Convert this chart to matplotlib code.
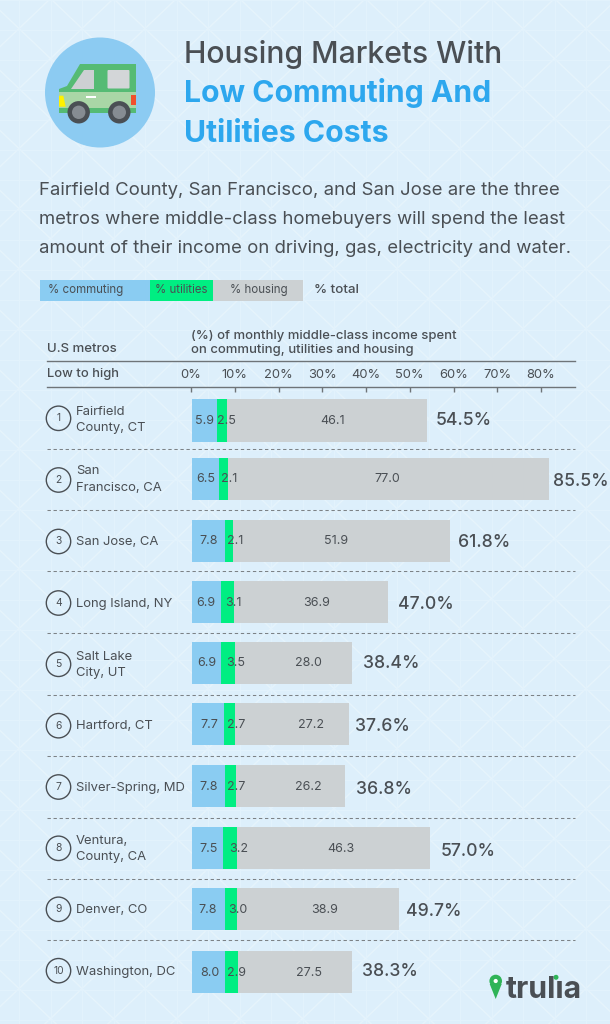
import matplotlib
matplotlib.use("Agg")
import matplotlib.pyplot as plt
from matplotlib.patches import Circle, Polygon, Rectangle, FancyBboxPatch

metros = ["Fairfield\nCounty, CT", "San\nFrancisco, CA", "San Jose, CA", "Long Island, NY", "Salt Lake\nCity, UT",
          "Hartford, CT", "Silver-Spring, MD", "Ventura,\nCounty, CA", "Denver, CO", "Washington, DC"]
commuting = [5.9, 6.5, 7.8, 6.9, 6.9, 7.7, 7.8, 7.5, 7.8, 8.0]
utilities = [2.5, 2.1, 2.1, 3.1, 3.5, 2.7, 2.7, 3.2, 3.0, 2.9]
housing = [46.1, 77.0, 51.9, 36.9, 28.0, 27.2, 26.2, 46.3, 38.9, 27.5]
totals = [54.5, 85.5, 61.8, 47.0, 38.4, 37.6, 36.8, 57.0, 49.7, 38.3]
# length of the first grey bar as drawn in the source (longer than its 46.1 label)
housing_drawn = [48.0, 77.0, 51.9, 36.9, 28.0, 27.2, 26.2, 46.3, 38.9, 27.5]
tick_values = [0, 10, 20, 30, 40, 50, 60, 70, 80]

W, H = 610, 1024
BG, BLUE, GREEN, GREY = "#DDEFFB", "#8ACCF2", "#00EE82", "#CCD1D3"
INK, TITLE_BLUE = "#4A4F54", "#2DA7EE"
FONT = "Inter"

bar_center = [420.3, 478.9, 541.2, 601.9, 662.8, 724.2, 785.8, 847.8, 908.8, 971.8]
separators = [448.7, 510.3, 571.3, 633, 694.7, 756, 817.7, 879, 940.3]
circle_y = [418.3, 480, 541.5, 603, 664.3, 725.7, 787, 848.3, 909.3, 970.7]
label_y = [420, 479.8, 542, 603.5, 665, 726, 787.5, 849, 910, 971.5]
blue_x = [204, 206, 209, 206.3, 207, 209.3, 209, 209, 208, 209.7]
green_x = [226.7, 229, 235.3, 233.3, 235.3, 236, 236, 238.7, 237.7, 236.7]
grey_x = [333, 387, 336, 316.7, 308, 310.7, 308, 341, 324.7, 309]
label_value_y = [421, 479.5, 541, 602.5, 663.5, 724.5, 787, 849.5, 910, 973]
total_x = [435.3, 553.3, 458.3, 398.3, 362.7, 355.3, 355.7, 440.3, 406, 361.7]
total_y = [420.7, 481, 542.7, 604.3, 663, 726.7, 790, 852, 911, 971.7]

fig = plt.figure(figsize=(W / 100, H / 100), dpi=100, facecolor=BG)
px = fig.add_axes([0, 0, 1, 1], zorder=3)
px.set_xlim(0, W); px.set_ylim(H, 0); px.axis("off"); px.patch.set_alpha(0)

# background lattice
bg = fig.add_axes([0, 0, 1, 1], zorder=0)
bg.set_xlim(0, W); bg.set_ylim(H, 0); bg.axis("off")
bg.set_facecolor(BG)
PX, PY = 63, 60
for i in range(-18, 30):
    x0 = 493 + (i - 8) * PX
    bg.plot([x0, x0 + H * 63 / 60], [0, H], color="#E6F4FC", lw=1.0)
    x1 = 553 + (i - 8) * PX
    bg.plot([x1, x1 - H * 63 / 60], [0, H], color="#E6F4FC", lw=1.0)
for i in range(0, 21):
    bg.plot([19 + i * PX / 2] * 2, [0, H], color="#E2F2FC", lw=0.8)
for j in range(0, 35):
    bg.plot([0, W], [j * PY / 2] * 2, color="#E2F2FC", lw=0.8)

# bars: 4.175 px per percent
left, right = 192, 575
top, bottom = 390, 1000
ax = fig.add_axes([left / W, 1 - bottom / H, (right - left) / W, (bottom - top) / H], zorder=1)
ax.set_xlim(0, (right - left) / 4.175)
ax.set_ylim(bottom, top)
ax.axis("off"); ax.patch.set_alpha(0)
acc = [a + b for a, b in zip(commuting, utilities)]
ax.barh(bar_center, commuting, height=42.4, color=BLUE)
ax.barh(bar_center, utilities, left=commuting, height=42.4, color=GREEN)
ax.barh(bar_center, housing_drawn, left=acc, height=42.4, color=GREY)

# percentage axis along the header rule: 43.75 px per ten percent
tick_ax = fig.add_axes([191 / W, 1 - 392 / H, (575 - 191) / W, 5 / H], zorder=1)
tick_ax.set_xlim(0, (575 - 191) / 4.375)
tick_ax.set_ylim(0, 1)
tick_ax.patch.set_alpha(0)
for s in tick_ax.spines.values():
    s.set_visible(False)
tick_ax.set_yticks([])
tick_ax.xaxis.tick_top()
tick_ax.set_xticks(tick_values)
tick_ax.set_xticklabels([f"{v}%" for v in tick_values], fontsize=9.3, color=INK, family=FONT)
tick_ax.tick_params(axis="x", direction="in", length=3.6, width=1, color="#6E7478", pad=4.2)

for sep in separators:
    px.plot([47, 575], [sep, sep], color="#7C8286", lw=0.75, dashes=(3.2, 2.6))
px.plot([47, 575], [361.3, 361.3], color="#6E7478", lw=1.0)
px.plot([47, 575], [387.3, 387.3], color="#6E7478", lw=1.0)

for i, m in enumerate(metros):
    px.add_patch(Circle((58.5, circle_y[i]), 12.2, fill=False, ec=INK, lw=1))
    px.text(58.5, circle_y[i], str(i + 1), ha="center", va="center", fontsize=7.4, color=INK, family=FONT)
    px.text(76, label_y[i], m, ha="left", va="center", fontsize=9.4, color=INK, family=FONT, linespacing=1.55)
    px.text(blue_x[i], label_value_y[i], f"{commuting[i]:.1f}", ha="center", va="center", fontsize=9, color=INK, family=FONT)
    px.text(green_x[i], label_value_y[i], f"{utilities[i]:.1f}", ha="center", va="center", fontsize=9, color=INK, family=FONT)
    px.text(grey_x[i], label_value_y[i], f"{housing[i]:.1f}", ha="center", va="center", fontsize=9, color=INK, family=FONT)
    px.text(total_x[i], total_y[i], f"{totals[i]:.1f}%", ha="left", va="center", fontsize=12.7, color=INK, family=FONT, weight="medium")

# titles
px.text(184, 63.3, "Housing Markets With", fontsize=21.7, color=INK, family=FONT, va="baseline", weight="medium")
px.text(184, 102.3, "Low Commuting And", fontsize=21.7, color=TITLE_BLUE, family=FONT, va="baseline", weight="bold")
px.text(184, 142.3, "Utilities Costs", fontsize=21.7, color=TITLE_BLUE, family=FONT, va="baseline", weight="bold")
for y, t in zip([195, 224, 253], ["Fairfield County, San Francisco, and San Jose are the three",
                                  "metros where middle-class homebuyers will spend the least",
                                  "amount of their income on driving, gas, electricity and water."]):
    px.text(39, y, t, fontsize=13.35, color=INK, family=FONT, va="baseline")

# legend strip
for x0, x1, c, t, tx in [(40.3, 150, BLUE, "% commuting", 86), (150, 212.7, GREEN, "% utilities", 181.5),
                         (212.7, 303, GREY, "% housing", 259)]:
    px.add_patch(Rectangle((x0, 279.7), x1 - x0, 21, fc=c, ec="none"))
    px.text(tx, 290, t, fontsize=8.3, color=INK, family=FONT, ha="center", va="center")
px.text(314, 290, "% total", fontsize=9.6, color=INK, family=FONT, va="center", weight="medium")

px.text(47, 349.5, "U.S metros", fontsize=9.5, color=INK, family=FONT, va="center", weight="medium")
px.text(47, 374.5, "Low to high", fontsize=9.3, color=INK, family=FONT, va="center", weight="medium")
px.text(191, 336, "(%) of monthly middle-class income spent", fontsize=9.4, color=INK, family=FONT, va="center", weight="medium")
px.text(191, 349.5, "on commuting, utilities and housing", fontsize=9.4, color=INK, family=FONT, va="center", weight="medium")

# car icon
px.add_patch(Circle((100, 92.5), 55, fc="#8CCBF2", ec="none"))
px.add_patch(Polygon([(80, 64), (136, 64), (136, 113), (59, 113), (59, 89), (67, 86)], fc="#55BB74", ec="none"))
px.add_patch(Rectangle((59, 92), 77, 16, fc="#A9D6A6", ec="none"))
px.add_patch(Polygon([(83.5, 69.5), (94.3, 69.5), (94.3, 89.3), (70.7, 89.3)], fc="#CDD0D3", ec="none"))
px.add_patch(FancyBboxPatch((107.5, 70), 22, 18.5, boxstyle="round,pad=0,rounding_size=1", fc="#D3D6D8", ec="none"))
px.add_patch(Polygon([(59, 95.7), (63.3, 95.7), (65.7, 106.7), (59, 106.7)], fc="#FFF200", ec="none"))
px.add_patch(Rectangle((130.7, 95.3), 5.3, 10, fc="#F0502D", ec="none"))
px.add_patch(Rectangle((86, 95.5), 10, 2, fc="white", ec="none"))
for cx in [78.7, 119.3]:
    px.add_patch(Circle((cx, 112.3), 11.2, fc="#4A4F54", ec="none"))
    px.add_patch(Circle((cx, 112.3), 6.7, fc="#868C92", ec="none"))

# trulia logo
px.add_patch(Polygon([(489.7, 984), (495.7, 999), (501.7, 984)], fc="#2FB457", ec="none"))
px.add_patch(Circle((495.7, 981), 6.3, fc="#2FB457", ec="none"))
px.add_patch(Circle((495.7, 981), 2.1, fc="white", ec="none"))
px.text(506, 998, "trul\u0131a", fontsize=21.8, color="#4A4F54", family="Inter", weight="bold", va="baseline")
px.add_patch(Circle((556, 977.3), 2.5, fc="#2FB457", ec="none"))

fig.savefig("out.png", dpi=100, facecolor=BG)
